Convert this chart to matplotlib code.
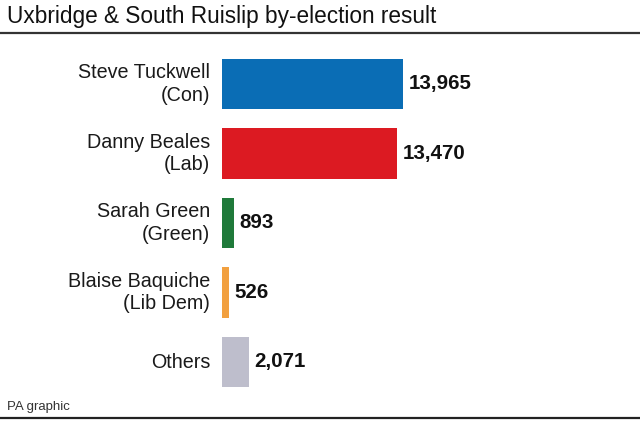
import matplotlib.pyplot as plt
import matplotlib.lines as mlines

plt.rcParams['font.family'] = ['Liberation Sans', 'DejaVu Sans']

# Data
candidates = ["Steve Tuckwell\n(Con)", "Danny Beales\n(Lab)", "Sarah Green\n(Green)",
              "Blaise Baquiche\n(Lib Dem)", "Others"]
votes = [13965, 13470, 893, 526, 2071]
colors = ["#0a6db5", "#dc1a22", "#1f7a3a", "#f2a03f", "#bebecc"]

W, H = 640, 421
fig = plt.figure(figsize=(W / 100, H / 100), dpi=100)

# axes placed in pixel terms
left, right = 222, 640
top, bottom = 49.25, 396.75
ax = fig.add_axes([left / W, 1 - bottom / H, (right - left) / W, (bottom - top) / H])

ypos = list(range(len(votes)))
ax.barh(ypos, votes, height=0.72, color=colors)
ax.set_xlim(0, (right - left) / 0.01296)
ax.set_ylim(len(votes) - 0.5, -0.5)
ax.axis("off")

for y, v, name in zip(ypos, votes, candidates):
    ax.text(v + 450, y, f"{v:,}", va="center", ha="left", fontsize=14.8,
            fontweight="bold", color="#111111")
    ax.text(-900, y, name, va="center", ha="right", fontsize=14.2,
            color="#1a1a1a", linespacing=1.25)

fig.text(7 / W, 1 - 17 / H, "Uxbridge & South Ruislip by-election result",
         fontsize=16.3, va="center", ha="left", color="#111111")
fig.add_artist(mlines.Line2D([0, 1], [1 - 32.5 / H, 1 - 32.5 / H],
                             transform=fig.transFigure, color="#333333", lw=1.6))
fig.text(7 / W, 1 - 407 / H, "PA graphic", fontsize=9.5, va="center", ha="left",
         color="#333333")
fig.add_artist(mlines.Line2D([0, 1], [1 - 418 / H, 1 - 418 / H],
                             transform=fig.transFigure, color="#222222", lw=1.6))

fig.savefig("out.png", dpi=100)
